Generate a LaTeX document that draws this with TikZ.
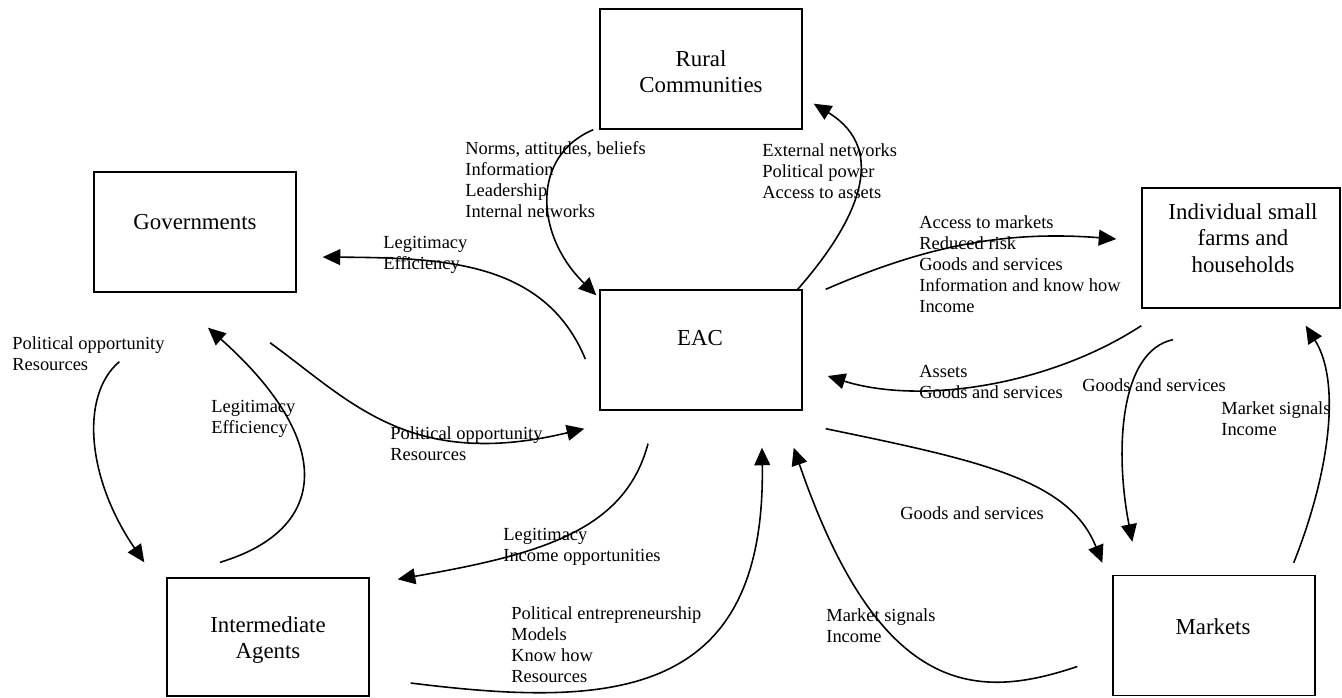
\documentclass[tikz,border=0pt]{standalone}
\usepackage{fontspec}
\setmainfont{Liberation Serif}
\usetikzlibrary{arrows.meta,calc}
\tikzset{
  box/.style={draw,line width=0.8pt,minimum width=4.04cm,minimum height=2.4cm,inner sep=0pt},
  boxtext/.style={align=center,inner sep=0pt,font=\fontsize{13}{15}\selectfont},
  flow/.style={line width=0.9pt,-{Triangle[length=10pt,width=9pt]}},
  lbl/.style={anchor=north west,align=left,inner sep=0pt,font=\fontsize{10.5}{12}\selectfont}
}
\begin{document}
\begin{tikzpicture}[x=0.02cm,y=-0.02cm]
  \useasboundingbox (0,0) rectangle (1342,697);

  % Actors
  \node[box] (rural) at (701,69) {};
  \node[boxtext] (rural-t) at (701,72) {Rural\\Communities};
  \node[box] (gov) at (195,232) {};
  \node[boxtext] (gov-t) at (195,222) {Governments};
  \node[box] (eac) at (701,350) {};
  \node[boxtext] (eac-t) at (700,338) {EAC};
  \node[box,minimum width=3.96cm] (farm) at (1241,248) {};
  \node[boxtext] (farm-t) at (1243,238) {Individual small\\farms and\\households};
  \node[box,minimum height=2.36cm] (ia) at (268,637) {};
  \node[boxtext] (ia-t) at (268,640) {Intermediate\\Agents};
  \node[box] (markets) at (1214,635.5) {};
  \node[boxtext] (markets-t) at (1213,627) {Markets};

  % Rural communities and EAC
  \draw[flow] ($(rural.south west)+(-6,0)$) .. controls +(-62,26) and +(-62,-61) .. ($(eac.north west)+(-3,6)$);
  \node[lbl] (norms) at (465,141) {Norms, attitudes, beliefs\\Information\\Leadership\\Internal networks};
  \draw[flow] ($(eac.north east)+(-5,0)$) .. controls +(58,-66) and +(77,47) .. ($(rural.south east)+(11,-26)$);
  \node[lbl] (external) at (762,143) {External networks\\Political power\\Access to assets};

  % Governments and EAC
  \draw[flow] ($(eac.west)+(-14,9)$) .. controls +(-41,-99) and +(118,1) .. ($(gov.east)+(26,25)$);
  \node[lbl] (legit-gov) at (383,236) {Legitimacy\\Efficiency};
  \draw[flow] ($(gov.south)+(75,50)$) .. controls +(80,58) and +(-175,42) .. ($(eac.south west)+(-15,18)$);
  \node[lbl] (polopp-eac) at (390,426) {Political opportunity\\Resources};

  % Farms and EAC
  \draw[flow] ($(eac.north east)+(23,0)$) .. controls +(95,-41) and +(-117,-9) .. ($(farm.west)+(-25,-9)$);
  \node[lbl] (access) at (919,215) {Access to markets\\Reduced risk\\Goods and services\\Information and know how\\Income};
  \draw[flow] ($(farm.south west)+(0,17)$) .. controls +(-92,60) and +(93,29) .. ($(eac.east)+(25,26)$);
  \node[lbl] (assets) at (919,365) {Assets\\Goods and services};

  % Farms and markets
  \draw[flow] ($(farm.south)+(-68,31)$) .. controls +(-53,11) and +(-18,-92) .. ($(markets.north west)+(20,-33)$);
  \node[lbl] (goods-farm) at (1082,378) {Goods and services};
  \draw[flow] ($(markets.north east)+(-22,-12)$) .. controls +(37,-93) and +(35,55) .. ($(farm.south east)+(-35,17)$);
  \node[lbl] (signals-farm) at (1221,401) {Market signals\\Income};

  % Markets and EAC
  \draw[flow] ($(eac.south east)+(23,18)$) .. controls +(155,32) and +(-33,-83) .. ($(markets.north west)+(-10,-12)$);
  \node[lbl] (goods-mkt) at (900,506) {Goods and services};
  \draw[flow] ($(markets.west)+(-35,31)$) .. controls +(-98,33) and +(87,253) .. ($(eac.south east)+(-9,37)$);
  \node[lbl] (signals-eac) at (826,608) {Market signals\\Income};

  % Intermediate agents and EAC
  \draw[flow] ($(ia.east)+(41,46)$) .. controls +(200,25) and +(4,253) .. ($(eac.south)+(61,37)$);
  \node[lbl] (entre) at (511,606) {Political entrepreneurship\\Models\\Know how\\Resources};
  \draw[flow] ($(eac.south)+(-53,33)$) .. controls +(-23,87) and +(143,-25) .. ($(ia.north east)+(28,2)$);
  \node[lbl] (legit-ia) at (503,528) {Legitimacy\\Income opportunities};

  % Governments and intermediate agents
  \draw[flow] ($(gov.south west)+(26,69)$) .. controls +(-40,34) and +(-57,-83) .. ($(ia.north west)+(-22,-15)$);
  \node[lbl] (polopp-ia) at (12,336) {Political opportunity\\Resources};
  \draw[flow] ($(ia.north)+(-48,-15)$) .. controls +(110,-33) and +(127,113) .. ($(gov.south)+(13,35)$);
  \node[lbl] (legit-left) at (211,400) {Legitimacy\\Efficiency};
\end{tikzpicture}
\end{document}
